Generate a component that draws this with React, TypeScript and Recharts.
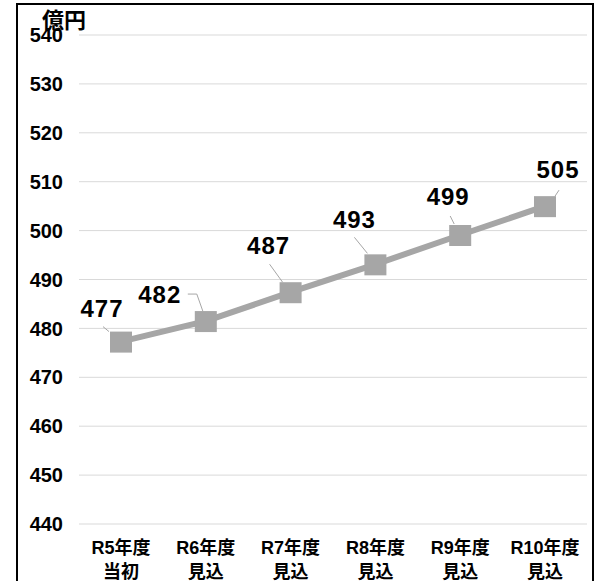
import React from 'react';
import { LineChart, Line, XAxis, YAxis, CartesianGrid, LabelList } from 'recharts';

const categoryTop = ['R5年度', 'R6年度', 'R7年度', 'R8年度', 'R9年度', 'R10年度'];
const categoryBottom = ['当初', '見込', '見込', '見込', '見込', '見込'];
const amounts = [477.3, 481.5, 487.4, 493.1, 499.1, 505.0];
const amountLabels = ['477', '482', '487', '493', '499', '505'];
const yTicks = [440, 450, 460, 470, 480, 490, 500, 510, 520, 530, 540];
const unitLabel = '億円';

const data = categoryTop.map((name, i) => ({ name, value: amounts[i], label: amountLabels[i] }));

// label layout: text centre offset and leader polyline relative to the marker centre
const labelLayout = [
  { dx: -19, dy: -25, leader: [[-18, -15], [-12, -10]] },
  { dx: -46, dy: -18, leader: [[-18, -27], [-9, -27], [-3, -10]] },
  { dx: -22, dy: -38, leader: [[-21, -28], [-8, -10]] },
  { dx: -21, dy: -36, leader: [[-21, -27], [-8, -11]] },
  { dx: -12, dy: -30, leader: [[-10, -19], [-6, -11]] },
  { dx: 13, dy: -28, leader: [[14, -16], [10, -10]] },
];

const FONT = '"Liberation Sans", Arial, "Noto Sans CJK JP", sans-serif';
const GRAY = '#a6a6a6';

const SquareDot = (props: any) => {
  const { cx, cy } = props;
  if (cx == null || cy == null) return null;
  return <rect x={cx - 11} y={cy - 10} width={22} height={21} fill={GRAY} />;
};

const ValueLabel = (props: any) => {
  const { x, y, index } = props;
  const l = labelLayout[index];
  const pts = l.leader.map(([a, b]) => `${x + a},${y + b}`).join(' ');
  return (
    <g>
      <polyline points={pts} fill="none" stroke={GRAY} strokeWidth={1} />
      <text
        x={x + l.dx}
        y={y + l.dy}
        textAnchor="middle"
        fontFamily={FONT}
        fontWeight="bold"
        fontSize={24}
        letterSpacing={1}
        fill="#000"
      >
        {amountLabels[index]}
      </text>
    </g>
  );
};

const XTick = (props: any) => {
  const { x, y, payload } = props;
  const i = payload.index;
  return (
    <text x={x} y={y} textAnchor="middle" fontFamily={FONT} fontWeight="bold" fontSize={18} fill="#000">
      <tspan x={x} dy={30}>{categoryTop[i]}</tspan>
      <tspan x={x} dy={24}>{categoryBottom[i]}</tspan>
    </text>
  );
};

export default function App() {
  return (
    <div style={{ position: 'fixed', left: 0, top: 0, width: 596, height: 581, overflow: 'hidden', background: '#fff' }}>
      <div
        style={{
          position: 'absolute',
          left: 16,
          top: 3,
          width: 578,
          height: 620,
          border: '2px solid #000',
          boxSizing: 'border-box',
        }}
      />
      <div style={{ position: 'absolute', left: 0, top: 0 }}>
        <LineChart width={596} height={581} data={data} margin={{ top: 35, right: 9, bottom: 0, left: 0 }}>
          <CartesianGrid vertical={false} stroke="#d9d9d9" strokeWidth={1} />
          <XAxis
            dataKey="name"
            axisLine={false}
            tickLine={false}
            tickSize={0}
            tickMargin={0}
            height={57}
            interval={0}
            padding={{ left: 42, right: 42 }}
            tick={<XTick />}
          />
          <YAxis
            domain={[440, 540]}
            ticks={yTicks}
            axisLine={false}
            tickLine={false}
            tickSize={0}
            tickMargin={16}
            width={79}
            interval={0}
            tick={{ fontFamily: FONT, fontWeight: 'bold', fontSize: 20, fill: '#000' }}
          />
          <Line
            type="linear"
            dataKey="value"
            stroke={GRAY}
            strokeWidth={6}
            dot={<SquareDot />}
            activeDot={false}
            isAnimationActive={false}
          >
            <LabelList dataKey="label" content={<ValueLabel />} />
          </Line>
        </LineChart>
      </div>
      <div
        style={{
          position: 'absolute',
          left: 42,
          top: 3,
          fontFamily: '"Noto Sans CJK JP", sans-serif',
          fontWeight: 'bold',
          fontSize: 22,
          lineHeight: '30px',
          color: '#000',
        }}
      >
        {unitLabel}
      </div>
    </div>
  );
}
